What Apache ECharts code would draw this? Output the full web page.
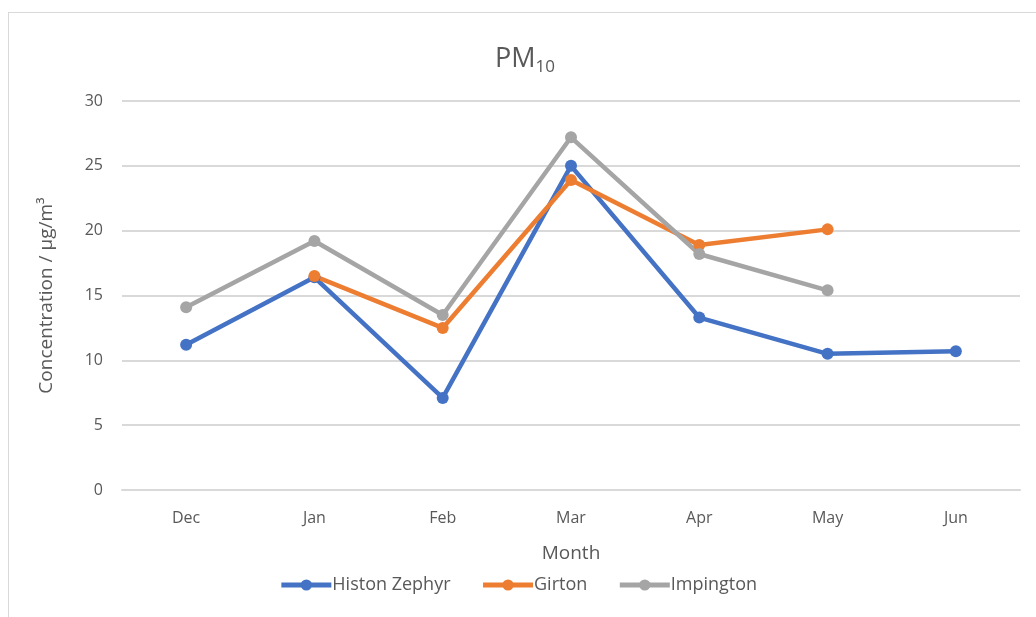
<!DOCTYPE html>
<html>
<head>
<meta charset="utf-8">
<script src="https://cdn.jsdelivr.net/npm/echarts@6/dist/echarts.min.js"></script>
<style>
  html, body { margin: 0; padding: 0; background: #fff; }
  .frame {
    position: absolute;
    left: 8px;
    top: 12px;
    width: 1040px;
    height: 620px;
    border: 1px solid #d9d9d9;
    box-sizing: border-box;
  }
  #chart { position: absolute; left: 0; top: 0; width: 1036px; height: 617px; }
</style>
</head>
<body>
<div class="frame"></div>
<div id="chart"></div>
<script>
const months = ["Dec", "Jan", "Feb", "Mar", "Apr", "May", "Jun"];
const histonZephyr = [11.2, 16.4, 7.1, 25.0, 13.3, 10.5, 10.7];
const girton = [null, 16.5, 12.5, 23.9, 18.9, 20.1, null];
const impington = [14.1, 19.2, 13.5, 27.2, 18.2, 15.4, null];

let chart = echarts.init(document.getElementById("chart"));
let textColor = "#595959";
let fontFamily = "Open Sans";
let fontSize = 16;

function line(name, data, color) {
  return {
    name: name,
    type: "line",
    data: data,
    symbol: "circle",
    symbolSize: 12,
    showSymbol: true,
    animation: false,
    lineStyle: { width: 4.5, color: color },
    itemStyle: { color: color },
  };
}

let option = {
  title: {
    text: "PM{sub|10}",
    left: 490,
    top: 38,
    textStyle: {
      color: textColor,
      fontSize: 27,
      fontWeight: "normal",
      fontFamily: fontFamily,
      rich: {
        sub: { fontSize: 17, color: textColor, fontFamily: fontFamily, padding: [16, 0, 0, 0] },
      },
    },
  },
  grid: { left: 122, right: 16, top: 101, bottom: 127 },
  legend: {
    bottom: 18,
    left: "center",
    itemWidth: 50,
    itemHeight: 14,
    itemGap: 30,
    lineStyle: { width: 5 },
    textStyle: { color: textColor, fontSize: 18, fontFamily: fontFamily, padding: [0, 0, 0, -4] },
    data: ["Histon Zephyr", "Girton", "Impington"],
  },
  xAxis: {
    type: "category",
    data: months,
    boundaryGap: true,
    name: "Month",
    nameLocation: "middle",
    nameGap: 54,
    nameTextStyle: { color: textColor, fontSize: 19, fontFamily: fontFamily },
    axisLine: { show: true, lineStyle: { color: "#d9d9d9", width: 2 } },
    axisTick: { show: false },
    axisLabel: { color: textColor, fontSize: fontSize, fontFamily: fontFamily, margin: 20 },
  },
  yAxis: {
    type: "value",
    min: 0,
    max: 30,
    interval: 5,
    name: "Concentration / µg/m³",
    nameLocation: "middle",
    nameGap: 66,
    nameTextStyle: { color: textColor, fontSize: 19, fontFamily: fontFamily },
    axisLine: { show: false },
    axisTick: { show: false },
    splitLine: { lineStyle: { color: "#d9d9d9", width: 2 } },
    axisLabel: { color: textColor, fontSize: fontSize, fontFamily: fontFamily, margin: 19 },
  },
  series: [
    line("Histon Zephyr", histonZephyr, "#4472C4"),
    line("Girton", girton, "#ED7D31"),
    line("Impington", impington, "#A5A5A5"),
  ],
};

chart.setOption(option);
</script>
</body>
</html>
